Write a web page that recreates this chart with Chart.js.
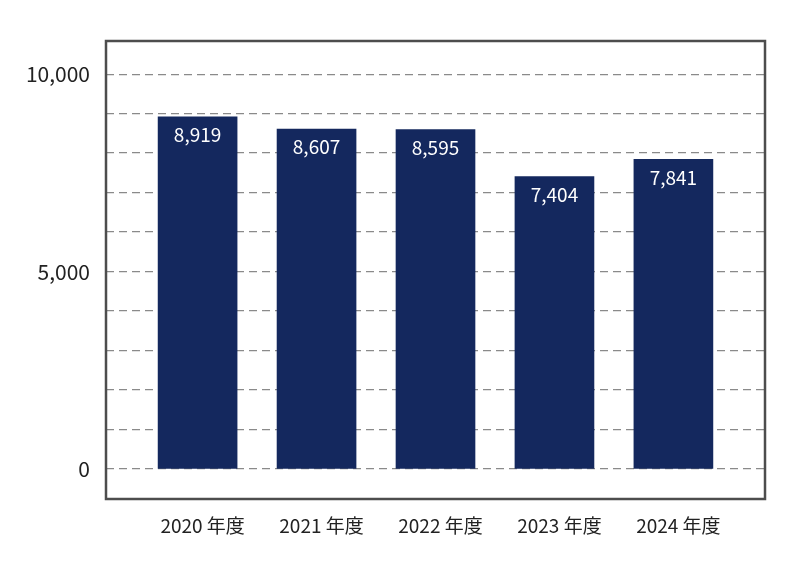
<!DOCTYPE html>
<html>
<head>
<meta charset="utf-8">
<script src="https://cdn.jsdelivr.net/npm/chart.js@4/dist/chart.umd.min.js"></script>
<style>
  html, body { margin: 0; padding: 0; background: #fff; }
  #wrap { width: 787px; height: 577px; }
</style>
</head>
<body>
<div id="wrap"><canvas id="chart"></canvas></div>
<script>
 const years = ['2020 年度', '2021 年度', '2022 年度', '2023 年度', '2024 年度'];
 const counts = [8919, 8607, 8595, 7404, 7841];
 const yTicks = [0, 1000, 2000, 3000, 4000, 5000, 6000, 7000, 8000, 9000, 10000];
 const yLabelled = [0, 5000, 10000];

 const fontFamily = "'Noto Sans CJK JP', 'Noto Sans', sans-serif";

 // frame around the plot area
 const framePlugin = {
   id: 'frame',
   afterDraw(chart) {
     const a = chart.chartArea;
     const ctx = chart.ctx;
     ctx.save();
     ctx.strokeStyle = '#4d4d4d';
     ctx.lineWidth = 2.5;
     ctx.strokeRect(a.left, a.top, a.right - a.left, a.bottom - a.top);
     ctx.restore();
   }
 };

 // white value labels inside top of bars
 const valuePlugin = {
   id: 'values',
   afterDatasetsDraw(chart) {
     const ctx = chart.ctx;
     const meta = chart.getDatasetMeta(0);
     ctx.save();
     ctx.fillStyle = '#ffffff';
     ctx.font = "19px " + fontFamily;
     ctx.textAlign = 'center';
     ctx.textBaseline = 'middle';
     meta.data.forEach(function (bar, i) {
       ctx.fillText(counts[i].toLocaleString('en-US'), bar.x, bar.y + 18);
     });
     ctx.restore();
   }
 };

 const barData = {
   datasets: [{
     label: '件数',
     backgroundColor: '#14285e',
     borderWidth: 0,
     barThickness: 79,
     data: counts.map(function (v, i) { return { x: i, y: v }; })
   }]
 };

 const config = {
   type: 'bar',
   data: barData,
   options: {
     responsive: true,
     maintainAspectRatio: false,
     animation: false,
     layout: { padding: { left: 0, right: 22, top: 41, bottom: 0 } },
     scales: {
       x: {
         type: 'linear',
         offset: false,
         min: -0.77,
         max: 4.77,
         grid: { display: false, drawTicks: false, offset: false },
         border: { display: false },
         afterBuildTicks: function (scale) {
           scale.ticks = years.map(function (_, i) { return { value: i }; });
         },
         afterFit: function (scale) { scale.height = 78; },
         ticks: {
           autoSkip: false,
           maxRotation: 0,
           padding: 15,
           labelOffset: 5,
           color: '#222',
           font: { size: 19, family: fontFamily },
           callback: function (value) { return years[value]; }
         }
       },
       y: {
         min: -760,
         max: 10840,
         afterBuildTicks: function (scale) {
           scale.ticks = yTicks.map(function (v) { return { value: v }; });
         },
         afterFit: function (scale) { scale.width = 106; },
         grid: {
           color: '#8a8a8a',
           lineWidth: 1.3,
           drawTicks: false
         },
         border: { display: false, dash: [8, 5] },
         ticks: {
           padding: 16,
           color: '#222',
           font: { size: 21, family: fontFamily },
           callback: function (value) {
             return yLabelled.indexOf(value) >= 0 ? value.toLocaleString('en-US') : '';
           }
         }
       }
     },
     plugins: {
       legend: { display: false },
       tooltip: { enabled: false }
     }
   },
   plugins: [framePlugin, valuePlugin]
 };

 const chart = new Chart(document.getElementById('chart'), config);
</script>
</body>
</html>
